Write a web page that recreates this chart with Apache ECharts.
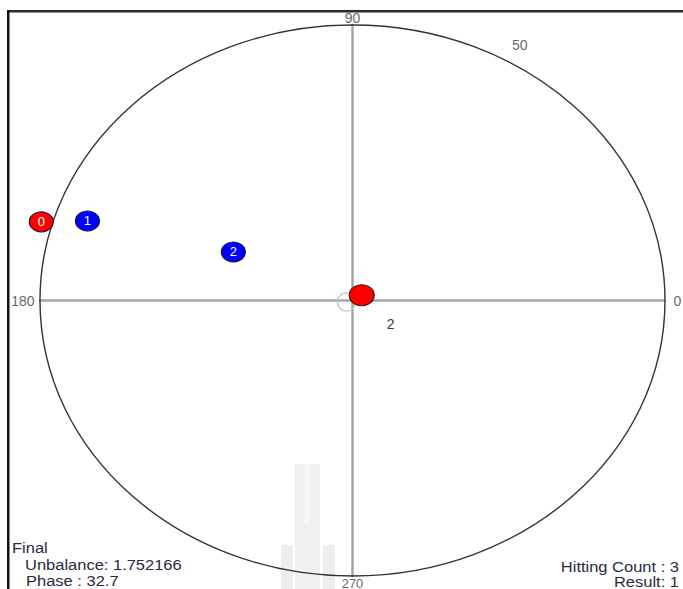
<!DOCTYPE html>
<html>
<head>
<meta charset="utf-8">
<script src="https://cdn.jsdelivr.net/npm/echarts@6/dist/echarts.min.js"></script>
<style>
  html, body { margin: 0; padding: 0; background: #ffffff; }
  #chart { width: 683px; height: 589px; }
</style>
</head>
<body>
<div id="chart"></div>
<script>
// Polar balancing plot: outer ring scale and angle markings (degrees)
const ringValue = 50;
const angleTicks = [0, 90, 180, 270];
const angleTickLabels = ['0', '90', '180', '270'];
const ringLabelAngle = 60;

// Trial hits: amplitude (ring units) and phase (degrees)
const hitNames = ['0', '1', '2'];
const hitAmplitudes = [51.8, 44.8, 21.0];
const hitPhases = [164.0, 161.2, 155.2];
const hitColors = ['#ff0000', '#0000ff', '#0000ff'];

// Final correction result
const finalUnbalance = 1.752166;
const finalPhase = 32.7;
const finalLabel = '2';
const hittingCount = 3;
const resultCode = 1;

// Hollow reference mark near the origin (x, y in ring units)
const refPoint = [-0.96, -0.27];

const FONT = '"Liberation Sans", Arial, sans-serif';
const TEXT_COLOR = '#2a2a40';

function toXY(amp, deg) {
  const r = deg * Math.PI / 180;
  return [amp * Math.cos(r), amp * Math.sin(r)];
}

const anglePlacement = {
  0:   { position: 'right',  distance: 8 },
  90:  { position: 'top',    distance: 0 },
  180: { position: 'left',   distance: 5 },
  270: { position: 'bottom', distance: 0 }
};

const chart = echarts.init(document.getElementById('chart'), null, { renderer: 'svg' });

const axisCommon = {
  type: 'value',
  min: -ringValue,
  max: ringValue,
  axisLine: { show: true, onZero: true, lineStyle: { color: '#a6a6a6', width: 2.5 } },
  axisTick: { show: false },
  axisLabel: { show: false },
  splitLine: { show: false }
};

function textEl(str, x, y, align) {
  return {
    type: 'text', z: 100, x: x, y: y, scaleX: 1.1, silent: true,
    style: {
      text: str, fill: TEXT_COLOR, font: '15px ' + FONT,
      textAlign: align, textVerticalAlign: 'middle', align: align, verticalAlign: 'middle'
    }
  };
}

chart.setOption({
  animation: false,
  backgroundColor: '#ffffff',
  grid: { left: 40, right: 18, top: 25, bottom: 13 },
  xAxis: Object.assign({}, axisCommon),
  yAxis: Object.assign({}, axisCommon),
  graphic: [
    // faint logo watermark near the bottom
    { type: 'rect', z: -5, silent: true, shape: { x: 295, y: 464, width: 25, height: 125 }, style: { fill: '#f0f0f0' } },
    { type: 'rect', z: -5, silent: true, shape: { x: 304, y: 464, width: 6, height: 60 }, style: { fill: '#f7f7f7' } },
    { type: 'rect', z: -5, silent: true, shape: { x: 281, y: 545, width: 12, height: 44 }, style: { fill: '#eeeeee' } },
    { type: 'rect', z: -5, silent: true, shape: { x: 323, y: 545, width: 12, height: 44 }, style: { fill: '#eeeeee' } },
    // panel frame (top and left edges)
    { type: 'rect', z: 100, silent: true, shape: { x: 7, y: 10, width: 676, height: 2.5 }, style: { fill: '#2a2a2a' } },
    { type: 'rect', z: 100, silent: true, shape: { x: 7, y: 10, width: 2.5, height: 579 }, style: { fill: '#111111' } },
    // summary text
    textEl('Final', 12, 547.5, 'left'),
    textEl('Unbalance: ' + finalUnbalance, 25, 564.5, 'left'),
    textEl('Phase : ' + finalPhase, 26, 580.5, 'left'),
    textEl('Hitting Count : ' + hittingCount, 679, 566.5, 'right'),
    textEl('Result: ' + resultCode, 679, 581.5, 'right')
  ],
  series: [
    {
      // outer ring drawn through the axis scales
      type: 'custom',
      silent: true,
      z: 1,
      data: [[ringValue]],
      renderItem: function (params, api) {
        const c = api.coord([0, 0]);
        const e = api.coord([api.value(0), 0]);
        const n = api.coord([0, api.value(0)]);
        return {
          type: 'ellipse',
          shape: { cx: c[0], cy: c[1], rx: e[0] - c[0], ry: c[1] - n[1] },
          style: { fill: 'none', stroke: '#333333', lineWidth: 1.4 }
        };
      }
    },
    {
      // angle markings on the ring
      type: 'scatter',
      silent: true,
      symbolSize: 1,
      itemStyle: { color: 'rgba(0,0,0,0)' },
      data: angleTicks.map(function (a, i) {
        return {
          value: toXY(ringValue, a),
          label: {
            show: true,
            formatter: angleTickLabels[i],
            position: anglePlacement[a].position,
            distance: anglePlacement[a].distance,
            fontSize: a === 270 ? 13 : 14
          }
        };
      }),
      label: { color: '#3c3c3c', fontSize: 14, fontFamily: FONT }
    },
    {
      // ring scale value
      type: 'scatter',
      silent: true,
      symbolSize: 1,
      itemStyle: { color: 'rgba(0,0,0,0)' },
      data: [toXY(ringValue, ringLabelAngle)],
      label: {
        show: true,
        position: 'inside',
        offset: [11, -17],
        formatter: String(ringValue),
        color: '#3c3c3c', fontSize: 14, fontFamily: FONT
      }
    },
    {
      // hollow reference mark
      type: 'scatter',
      silent: true,
      z: 3,
      symbol: 'circle',
      symbolSize: 18,
      itemStyle: { color: 'rgba(255,255,255,0)', borderColor: '#c8c8c8', borderWidth: 1.5, opacity: 1 },
      data: [refPoint]
    },
    {
      // trial hits
      type: 'scatter',
      silent: true,
      z: 4,
      symbol: 'circle',
      symbolSize: [24, 20],
      data: hitNames.map(function (name, i) {
        return {
          name: name,
          value: toXY(hitAmplitudes[i], hitPhases[i]),
          itemStyle: { color: hitColors[i], borderColor: '#101030', borderWidth: 1, opacity: 1 }
        };
      }),
      label: {
        show: true,
        position: 'inside',
        formatter: '{b}',
        color: '#ffffff',
        fontSize: 13,
        fontFamily: FONT
      }
    },
    {
      // final residual unbalance
      type: 'scatter',
      silent: true,
      z: 5,
      symbol: 'circle',
      symbolSize: [25, 21],
      itemStyle: { color: '#ff0000', borderColor: '#301010', borderWidth: 1, opacity: 1 },
      data: [{ name: finalLabel, value: toXY(finalUnbalance, finalPhase) }],
      label: {
        show: true,
        position: 'inside',
        offset: [29, 29],
        formatter: '{b}',
        color: '#3a3a4a',
        fontSize: 14,
        fontFamily: FONT
      }
    }
  ]
});
</script>
</body>
</html>
